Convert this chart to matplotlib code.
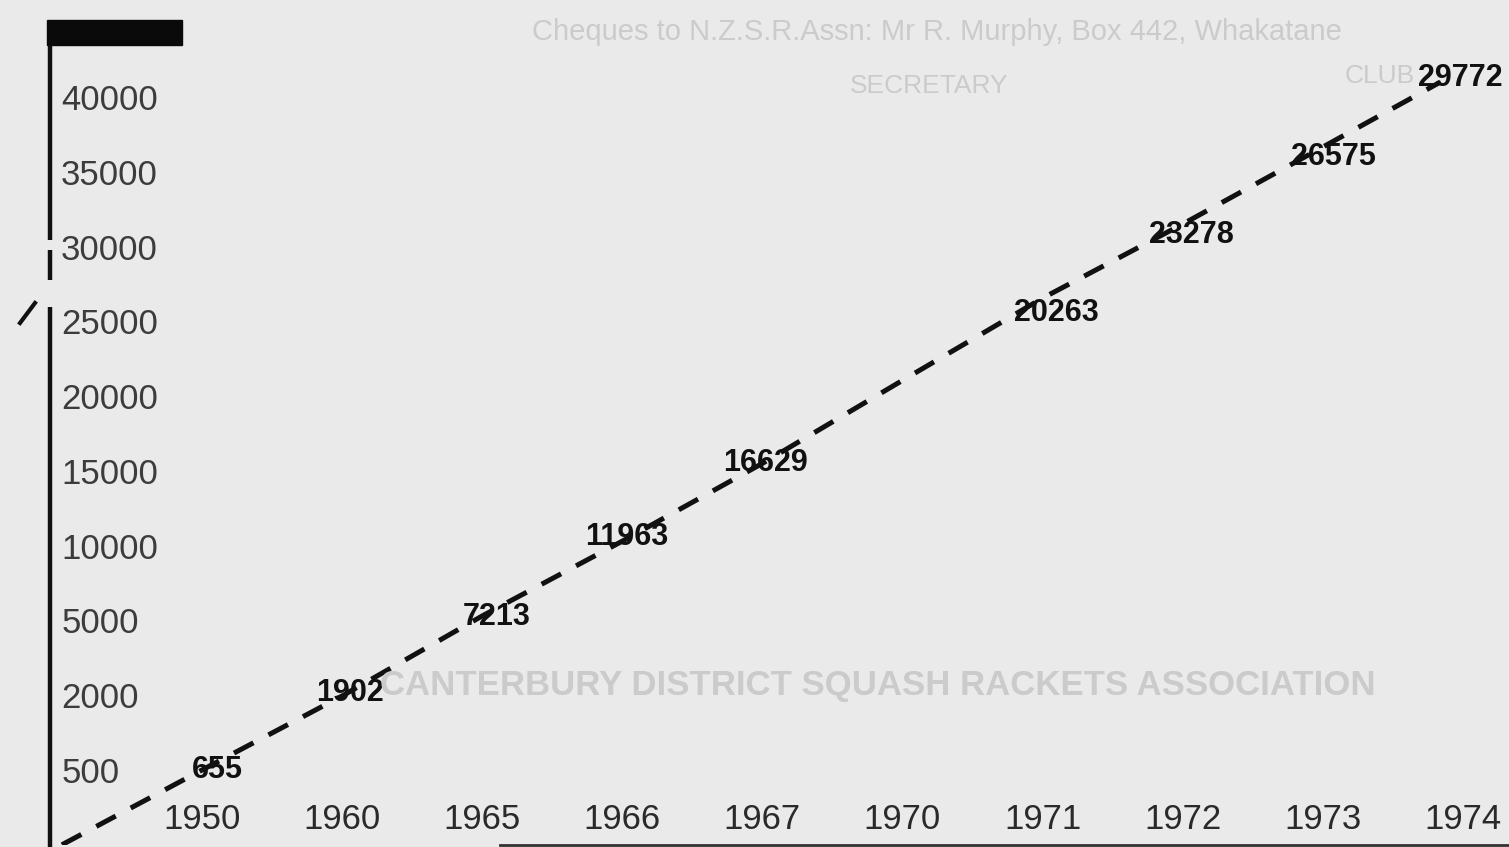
import matplotlib
matplotlib.use('Agg')
from matplotlib import pyplot as plt
from matplotlib.patches import Rectangle

# axis categories (the printed scale is not to scale, so ticks are evenly spaced)
YEARS = ['1950', '1960', '1965', '1966', '1967', '1970', '1971', '1972', '1973', '1974']
Y_TICKS = ['500', '2000', '5000', '10000', '15000', '20000', '25000', '30000', '35000', '40000']

# values printed along the line, and the year column each one sits in
VALUES = [655, 1902, 7213, 11963, 16629, 20263, 23278, 26575, 29772]
VALUE_YEAR = [0, 1, 2, 3, 4, 6, 7, 8, 9]

# where the dashed line crosses each year column (in tick steps)
LINE_LEVEL = [0.0, 0.99, 2.06, 3.06, 4.10, 5.21, 6.31, 7.30, 8.33]

# label placement, in tick steps
LABEL_X = [0.107, 1.056, 2.106, 3.03, 4.02, 6.10, 7.06, 8.08, 8.98]
LABEL_Y = [0.0, 1.03, 2.05, 3.11, 4.10, 6.11, 7.15, 8.20, 9.25]

BG = '#eaeaea'
FAINT = '#cbcbcb'


def main():
	fig = plt.figure(figsize=(15.09, 8.47), dpi=100, facecolor=BG)
	ax = fig.add_axes([50 / 1509, 2 / 847, 1459 / 1509, 825 / 847])
	ax.set_facecolor(BG)
	ax.set_xlim(-1.085, 9.33)
	ax.set_ylim(-1.003, 10.03)
	for s in ax.spines.values():
		s.set_visible(False)

	# faded text showing through from the page
	fig.text(532 / 1509, 1 - 32 / 847, 'Cheques to N.Z.S.R.Assn: Mr R. Murphy, Box 442, Whakatane',
		fontsize=21, color=FAINT, family='Liberation Sans', va='center')
	fig.text(850 / 1509, 1 - 86 / 847, 'SECRETARY', fontsize=19, color=FAINT,
		family='Liberation Sans', va='center')
	fig.text(1345 / 1509, 1 - 76 / 847, 'CLUB', fontsize=19, color=FAINT,
		family='Liberation Sans', va='center')
	fig.text(380 / 1509, 1 - 686 / 847, 'CANTERBURY DISTRICT SQUASH RACKETS ASSOCIATION',
		fontsize=25, fontweight='bold', color=FAINT, family='Liberation Sans', va='center')

	# dashed line, starting from the corner of the axes
	xs = [-1.0] + list(range(len(LINE_LEVEL))) + [8.84]
	ys = [-1.0] + LINE_LEVEL + [9.2]
	ax.plot(xs, ys, color='#111111', lw=3.6, linestyle=(0, (4.4, 3.4)),
		dash_capstyle='butt', zorder=3)

	for v, lx, ly in zip(VALUES, LABEL_X, LABEL_Y):
		ax.text(lx, ly, str(v), ha='center', va='center', fontsize=22,
			fontweight='bold', family='Liberation Sans', color='#111111', zorder=4)

	ax.set_xticks(range(len(YEARS)))
	ax.set_xticklabels(YEARS, family='Liberation Sans', fontsize=25, color='#2a2a2a')
	ax.tick_params(axis='x', length=0, pad=-30)

	ax.set_yticks(range(len(Y_TICKS)))
	ax.set_yticklabels(Y_TICKS, family='Liberation Sans', fontsize=25, color='#3c3c3c', ha='left')
	ax.tick_params(axis='y', length=0, pad=-8)

	# hand drawn left axis with a break, and the bar on top
	for top, bottom in [(20, 240), (250, 280), (307, 847)]:
		ax.plot([0, 0], [(845 - top) / 825, (845 - bottom) / 825], transform=ax.transAxes,
			color='#111111', lw=3.2, solid_capstyle='butt', clip_on=False)
	fig.add_artist(Rectangle((47 / 1509, 1 - 45 / 847), 135 / 1509, 25 / 847,
		transform=fig.transFigure, color='#0a0a0a'))
	fig.add_artist(plt.Line2D([20 / 1509, 35 / 1509], [1 - 323 / 847, 1 - 303 / 847],
		transform=fig.transFigure, color='#111111', lw=3))
	# bottom rule
	ax.plot([450 / 1459, 1.0], [0.0, 0.0], transform=ax.transAxes,
		color='#333333', lw=2, clip_on=False)

	fig.savefig('out.png', dpi=100, facecolor=BG)


if __name__ == '__main__':
	main()
